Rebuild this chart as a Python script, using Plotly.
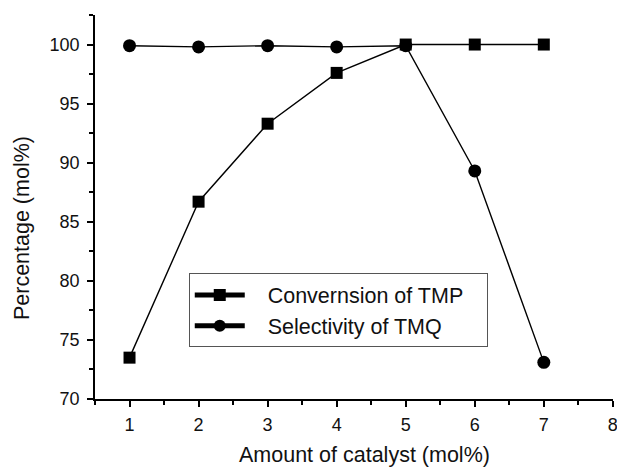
import plotly.graph_objects as go

catalyst = [1, 2, 3, 4, 5, 6, 7]
conversion_tmp = [73.5, 86.7, 93.3, 97.6, 100.0, 100.0, 100.0]
selectivity_tmq = [99.9, 99.8, 99.9, 99.8, 99.9, 89.3, 73.1]

font = "Liberation Sans, Arial, sans-serif"
ink = "#111111"

fig = go.Figure()
fig.add_trace(go.Scatter(
    x=catalyst, y=conversion_tmp, mode="lines+markers",
    name="\u00a0\u00a0\u00a0Convernsion of TMP\u00a0\u00a0\u00a0",
    line=dict(color="black", width=1.4),
    marker=dict(symbol="square", size=12, color="black"),
))
fig.add_trace(go.Scatter(
    x=catalyst, y=selectivity_tmq, mode="lines+markers",
    name="\u00a0\u00a0\u00a0Selectivity of TMQ",
    line=dict(color="black", width=1.4),
    marker=dict(symbol="circle", size=13, color="black"),
))

axis_common = dict(
    showgrid=False, zeroline=False, showline=True, linecolor="black", linewidth=1.5,
    ticks="outside", ticklen=6, tickwidth=1.5, tickcolor="black",
    tickfont=dict(family=font, size=18, color=ink),
    mirror=False, ticklabeloverflow="allow", automargin=False,
)

fig.update_xaxes(
    range=[0.5, 8.002], dtick=1, tick0=0, ticklabelstandoff=3,
    minor=dict(ticks="outside", dtick=0.5, tick0=0, ticklen=4, tickwidth=1.5, tickcolor="black"),
    **axis_common,
)
fig.update_yaxes(
    range=[70, 102.5], dtick=5, tick0=70, ticklabelstandoff=4,
    minor=dict(ticks="outside", dtick=2.5, tick0=70, ticklen=4, tickwidth=1.5, tickcolor="black"),
    **axis_common,
)

fig.add_annotation(
    text="Amount of catalyst (mol%)", xref="paper", yref="paper",
    x=0.521, y=-0.146, xanchor="center", yanchor="middle", showarrow=False,
    font=dict(family=font, size=21.5, color=ink),
)
fig.add_annotation(
    text="Percentage (mol%)", xref="paper", yref="paper",
    x=-0.141, y=0.445, xanchor="center", yanchor="middle", showarrow=False,
    textangle=-90, font=dict(family=font, size=21.5, color=ink),
)

fig.update_layout(
    width=617, height=467,
    margin=dict(l=95, r=4, t=15, b=68, autoexpand=False),
    paper_bgcolor="white", plot_bgcolor="white",
    showlegend=True,
    legend=dict(
        x=0.181, y=0.327, xanchor="left", yanchor="top",
        bordercolor="#555555", borderwidth=1, bgcolor="white",
        font=dict(family=font, size=21.5, color=ink),
        itemsizing="constant", tracegroupgap=0, itemwidth=50,
    ),
)

fig.write_html("out.html")
